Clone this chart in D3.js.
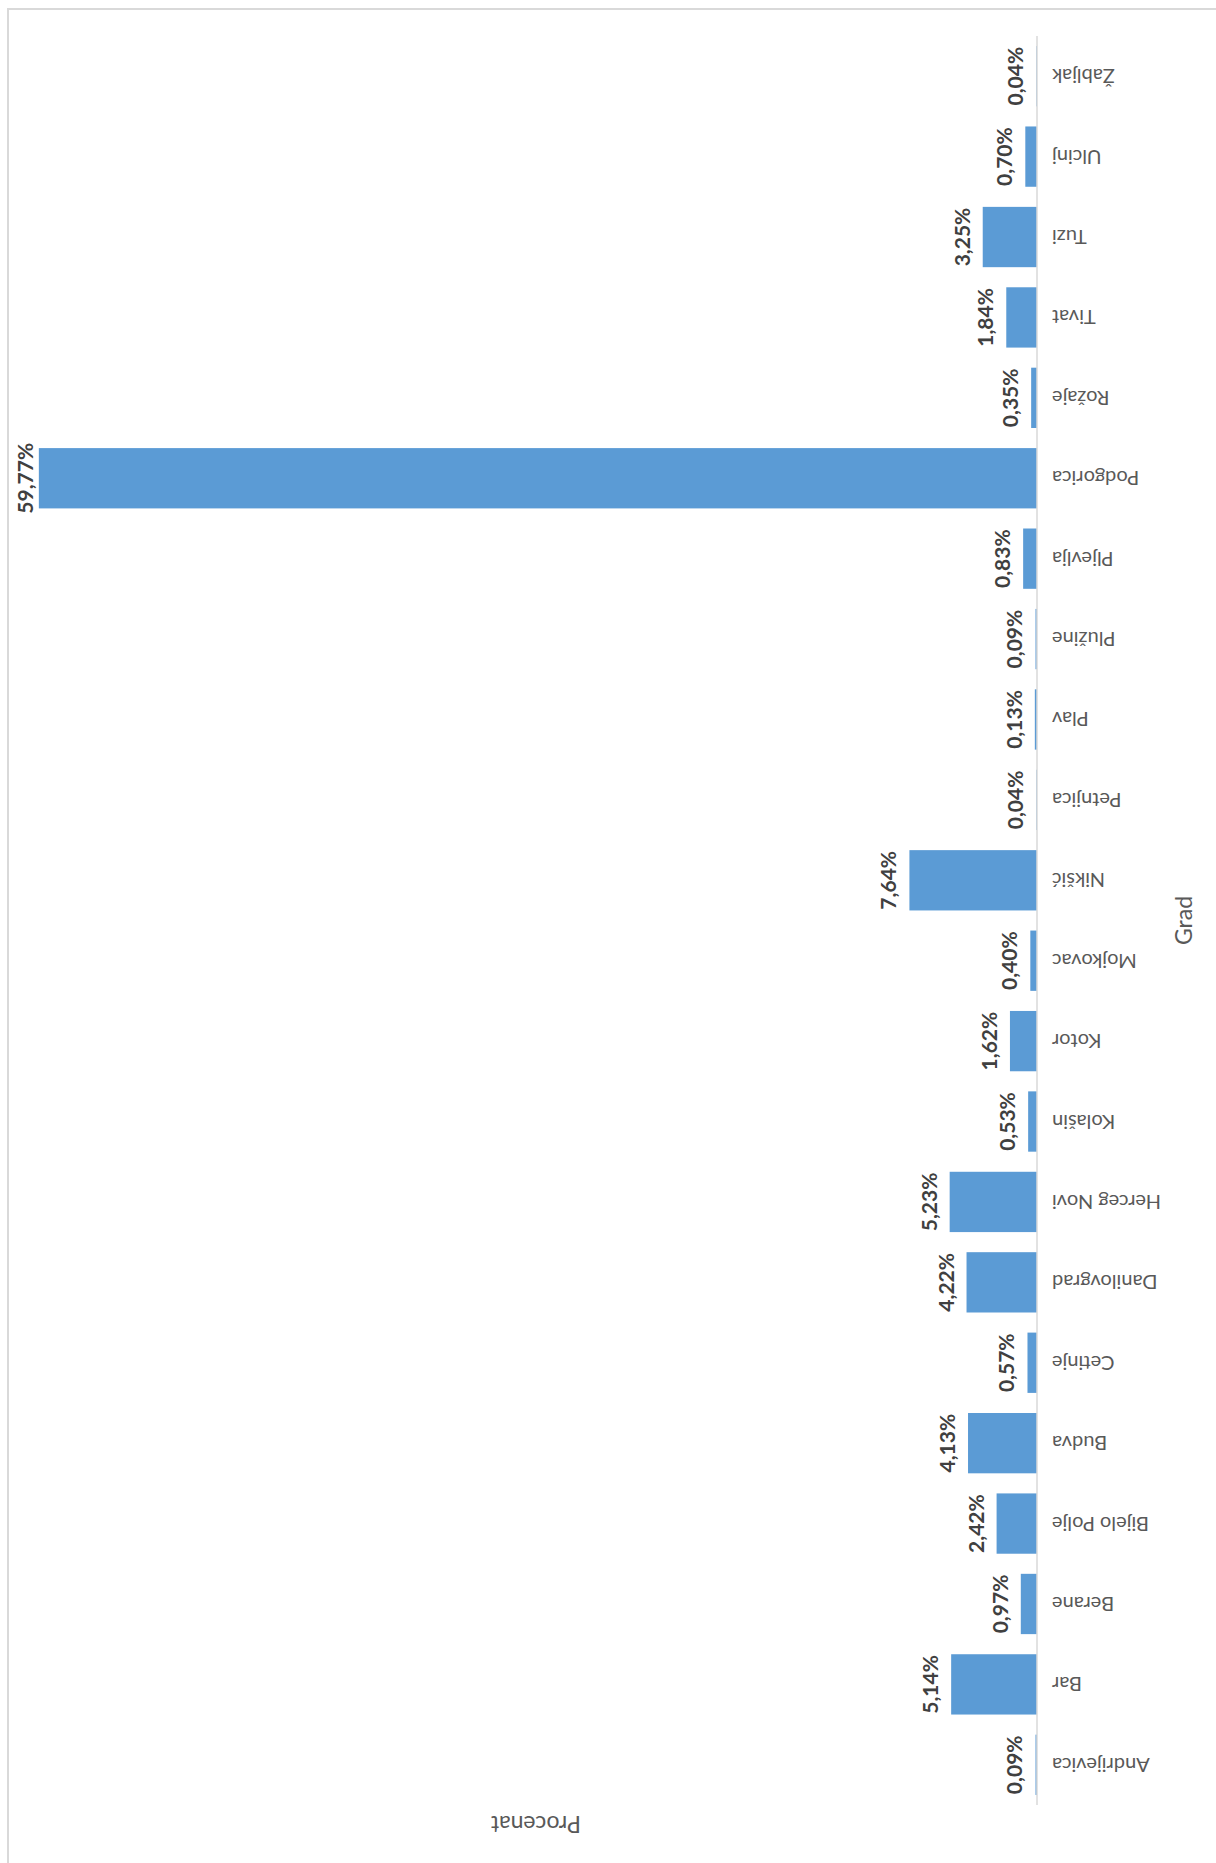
<!DOCTYPE html>
<html>
<head>
<meta charset="utf-8">
<script src="https://cdn.jsdelivr.net/npm/d3@7"></script>
<style>
  body { margin: 0; background: #fff; }
  svg { display: block; }
</style>
</head>
<body>
<div id="chart"></div>
<script>
// gradovi i procenti (column chart, slika je okrenuta za -90 stepeni)
var cities = ["Andrijevica", "Bar", "Berane", "Bijelo Polje", "Budva", "Cetinje", "Danilovgrad",
  "Herceg Novi", "Kolašin", "Kotor", "Mojkovac", "Nikšić", "Petnjica", "Plav", "Plužine",
  "Pljevlja", "Podgorica", "Rožaje", "Tivat", "Tuzi", "Ulcinj", "Žabljak"];
var percents = [0.09, 5.14, 0.97, 2.42, 4.13, 0.57, 4.22, 5.23, 0.53, 1.62, 0.40, 7.64, 0.04,
  0.13, 0.09, 0.83, 59.77, 0.35, 1.84, 3.25, 0.70, 0.04];
var valueDomain = [0, 60];
var xTitle = "Grad";
var yTitle = "Procenat";

var W = 1216, H = 1863;
var barColor = "#5b9bd5";
var font = "Lato, 'Open Sans', sans-serif";

var svg = d3.select("#chart").append("svg")
    .attr("width", W)
    .attr("height", H);

svg.append("rect")
    .attr("x", 8).attr("y", 9)
    .attr("width", W + 20).attr("height", H + 20)
    .attr("fill", "#fff")
    .attr("stroke", "#d9d9d9")
    .attr("stroke-width", 2);

// lokalne koordinate: obican column chart, pa ga rotiramo
var g = svg.append("g").attr("transform", "translate(0,1805) rotate(-90)");

var plotLen = 1769;
var axisV = 1037;

var x = d3.scaleBand()
    .domain(cities)
    .range([0, plotLen])
    .paddingInner(0.25)
    .paddingOuter(0.125);

var y = d3.scaleLinear()
    .domain(valueDomain)
    .range([axisV, 35]);

g.selectAll(".bar").data(cities).enter().append("rect")
    .attr("class", "bar")
    .attr("x", function (d) { return x(d); })
    .attr("width", x.bandwidth())
    .attr("y", function (d, i) { return y(percents[i]); })
    .attr("height", function (d, i) { return y(0) - y(percents[i]); })
    .attr("fill", barColor);

g.append("line")
    .attr("x1", 0).attr("x2", plotLen)
    .attr("y1", axisV).attr("y2", axisV)
    .attr("stroke", "#d9d9d9")
    .attr("stroke-width", 1.5);

// nazivi gradova
g.selectAll(".cat").data(cities).enter().append("text")
    .attr("class", "cat")
    .attr("transform", function (d) {
        return "translate(" + (x(d) + x.bandwidth() / 2) + "," + (axisV + 15) + ") rotate(-90)";
    })
    .attr("dy", "0.35em")
    .attr("text-anchor", "end")
    .style("font-family", font)
    .style("font-size", "20px")
    .style("fill", "#595959")
    .text(function (d) { return d; });

// vrijednosti (labela ne izlazi van okvira)
g.selectAll(".val").data(cities).enter().append("text")
    .attr("class", "val")
    .attr("x", function (d) { return x(d) + x.bandwidth() / 2; })
    .attr("y", function (d, i) { return Math.max(y(percents[i]) - 13, 33); })
    .attr("text-anchor", "middle")
    .style("font-family", font)
    .style("font-size", "21px")
    .style("font-weight", "bold")
    .style("fill", "#404040")
    .text(function (d, i) { return percents[i].toFixed(2).replace(".", ",") + "%"; });

g.append("text")
    .attr("x", plotLen / 2)
    .attr("y", 1192)
    .attr("text-anchor", "middle")
    .style("font-family", font)
    .style("font-size", "23px")
    .style("fill", "#595959")
    .text(xTitle);

g.append("text")
    .attr("transform", "translate(-11," + ((axisV + 35) / 2) + ") rotate(-90)")
    .attr("text-anchor", "middle")
    .style("font-family", font)
    .style("font-size", "23px")
    .style("fill", "#595959")
    .text(yTitle);
</script>
</body>
</html>
